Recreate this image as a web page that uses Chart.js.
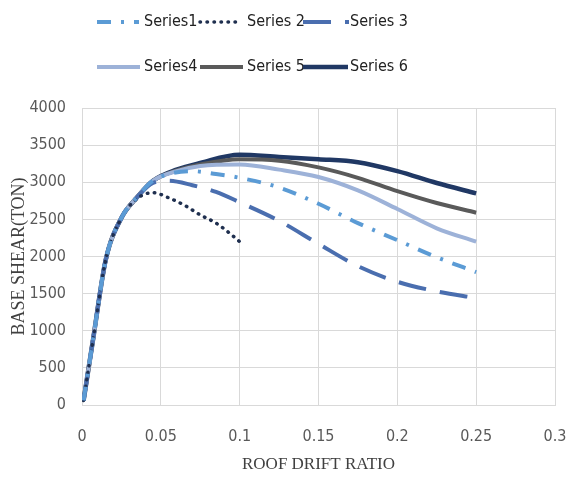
<!DOCTYPE html>
<html>
<head>
<meta charset="utf-8">
<script src="https://cdn.jsdelivr.net/npm/chart.js@4/dist/chart.umd.min.js"></script>
<style>
  html, body { margin: 0; padding: 0; background: #fff; }
  #wrap { width: 568px; height: 483px; position: relative; }
</style>
</head>
<body>
<div id="wrap"><canvas id="grafico" width="568" height="483"></canvas></div>
<script>
// datos (x = deriva de techo, y = cortante basal en ton)
const nombres = ["Series1", "Series 2", "Series 3", "Series4", "Series 5", "Series 6"];

const x_s1 = [0.001, 0.007, 0.015, 0.025, 0.035, 0.045, 0.055, 0.07, 0.085, 0.1, 0.125, 0.15, 0.175, 0.2, 0.225, 0.25];
const y_s1 = [60, 880, 1950, 2520, 2800, 3020, 3110, 3150, 3110, 3060, 2930, 2710, 2450, 2220, 1990, 1790];

const x_s2 = [0.001, 0.007, 0.015, 0.025, 0.035, 0.045, 0.055, 0.065, 0.075, 0.085, 0.095, 0.1];
const y_s2 = [60, 880, 1950, 2520, 2780, 2860, 2790, 2690, 2560, 2450, 2290, 2200];

const x_s3 = [0.001, 0.007, 0.015, 0.025, 0.035, 0.045, 0.055, 0.07, 0.085, 0.1, 0.125, 0.15, 0.175, 0.2, 0.225, 0.25];
const y_s3 = [60, 880, 1950, 2520, 2800, 2990, 3020, 2960, 2870, 2730, 2480, 2170, 1870, 1660, 1530, 1440];

const x_s4 = [0.001, 0.007, 0.015, 0.025, 0.035, 0.045, 0.06, 0.075, 0.1, 0.125, 0.15, 0.175, 0.2, 0.225, 0.25];
const y_s4 = [60, 880, 1950, 2520, 2800, 3020, 3150, 3220, 3240, 3170, 3070, 2890, 2640, 2380, 2200];

const x_s5 = [0.001, 0.007, 0.015, 0.025, 0.035, 0.045, 0.06, 0.075, 0.1, 0.125, 0.15, 0.175, 0.2, 0.225, 0.25];
const y_s5 = [60, 880, 1950, 2520, 2800, 3020, 3160, 3240, 3310, 3290, 3200, 3060, 2880, 2720, 2590];

const x_s6 = [0.001, 0.007, 0.015, 0.025, 0.035, 0.045, 0.06, 0.075, 0.1, 0.125, 0.15, 0.175, 0.2, 0.225, 0.25];
const y_s6 = [60, 880, 1950, 2520, 2800, 3020, 3170, 3260, 3370, 3340, 3310, 3270, 3150, 2990, 2850];

const x_ticks = [0, 0.05, 0.1, 0.15, 0.2, 0.25, 0.3];
const y_ticks = [0, 500, 1000, 1500, 2000, 2500, 3000, 3500, 4000];

function puntos(xs, ys) {
    return xs.map((x, i) => ({ x: x, y: ys[i] }));
}

const estilos = [
    { color: '#5B9BD5', width: 4, dash: [14, 10, 3, 10], cap: 'butt' },
    { color: '#1F2F4F', width: 3.5, dash: [0.5, 6.5], cap: 'round' },
    { color: '#4A6EAF', width: 4, dash: [28, 14], cap: 'butt' },
    { color: '#9DB2D8', width: 4, dash: [], cap: 'butt' },
    { color: '#5A5A5A', width: 4, dash: [], cap: 'butt' },
    { color: '#203864', width: 4.5, dash: [], cap: 'butt' }
];

const series = [puntos(x_s1, y_s1), puntos(x_s2, y_s2), puntos(x_s3, y_s3),
                puntos(x_s4, y_s4), puntos(x_s5, y_s5), puntos(x_s6, y_s6)];

const datasets = series.map((d, i) => ({
    label: nombres[i],
    data: d,
    borderColor: estilos[i].color,
    backgroundColor: estilos[i].color,
    borderWidth: estilos[i].width,
    borderDash: estilos[i].dash,
    borderCapStyle: estilos[i].cap,
    pointRadius: 0,
    cubicInterpolationMode: 'monotone',
    fill: false
}));

const fuente = '"DejaVu Sans Condensed", "Liberation Sans Narrow", sans-serif';

// leyenda dibujada a mano para mostrar los trazos punteados
const leyenda = {
    id: 'leyenda',
    afterDraw(chart) {
        const ctx = chart.ctx;
        const cols = [97, 200, 303];
        const filas = [22, 67];
        const largo = [42, 42, 46, 43, 43, 45];
        ctx.save();
        ctx.font = '16px ' + fuente;
        ctx.textBaseline = 'middle';
        ctx.fillStyle = '#222';
        nombres.forEach((n, i) => {
            const x = cols[i % 3];
            const y = filas[Math.floor(i / 3)];
            const e = estilos[i];
            ctx.beginPath();
            ctx.strokeStyle = e.color;
            ctx.lineWidth = e.width;
            ctx.lineCap = e.cap;
            ctx.setLineDash(e.dash);
            ctx.moveTo(x, y);
            ctx.lineTo(x + largo[i], y);
            ctx.stroke();
            ctx.setLineDash([]);
            ctx.fillText(n, x + 47, y);
        });
        ctx.restore();
    }
};

const ctx = document.getElementById('grafico');
new Chart(ctx, {
    type: 'line',
    data: { datasets: datasets },
    plugins: [leyenda],
    options: {
        responsive: false,
        animation: false,
        layout: { padding: { top: 108, right: 13, left: 0, bottom: 0 } },
        plugins: { legend: { display: false }, tooltip: { enabled: false } },
        scales: {
            x: {
                type: 'linear',
                min: 0, max: 0.3,
                afterBuildTicks: (s) => { s.ticks = x_ticks.map(v => ({ value: v })); },
                afterFit: (s) => { s.height = 78; s.paddingLeft = 0; s.paddingRight = 0; },
                grid: { color: '#D9D9D9', lineWidth: 1, drawTicks: false },
                border: { color: '#D9D9D9' },
                ticks: {
                    padding: 22,
                    color: '#595959',
                    font: { family: fuente, size: 16 },
                    callback: (v) => String(parseFloat(v.toFixed(2)))
                },
                title: {
                    display: true, text: 'ROOF DRIFT RATIO', color: '#404040',
                    font: { family: '"Liberation Serif", serif', size: 17 },
                    padding: { top: 0, bottom: 8 }
                }
            },
            y: {
                min: 0, max: 4000,
                afterBuildTicks: (s) => { s.ticks = y_ticks.map(v => ({ value: v })); },
                afterFit: (s) => { s.width = 82; s.paddingTop = 0; s.paddingBottom = 0; },
                grid: { color: '#D9D9D9', lineWidth: 1, drawTicks: false },
                border: { color: '#D9D9D9' },
                ticks: {
                    padding: 16,
                    color: '#595959',
                    font: { family: fuente, size: 16 },
                    callback: (v) => String(v)
                },
                title: {
                    display: true, text: 'BASE SHEAR(TON)', color: '#404040',
                    font: { family: '"Liberation Serif", serif', size: 18 },
                    padding: { top: 8, bottom: 0 }
                }
            }
        }
    }
});
</script>
</body>
</html>
